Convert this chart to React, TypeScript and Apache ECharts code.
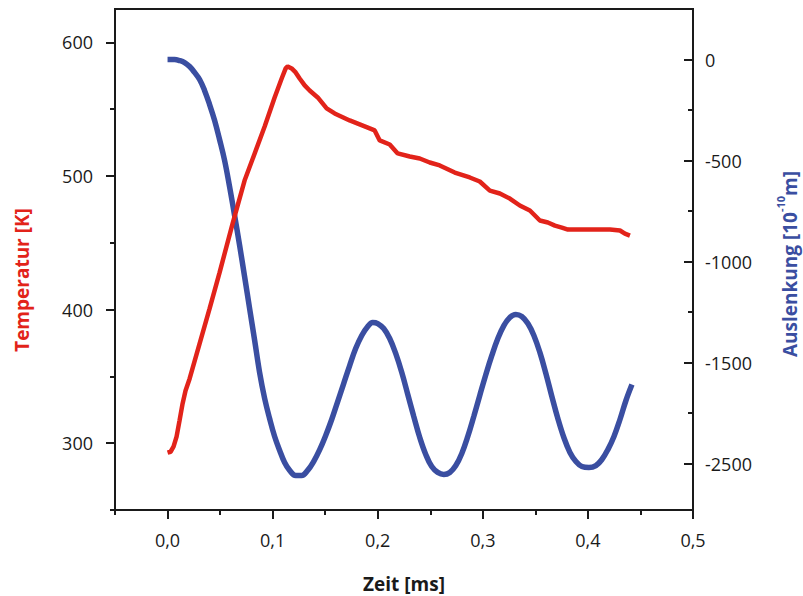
import React, { useEffect, useRef } from "react";
import * as echarts from "echarts";

// Temperatur (red) – time in ms, temperature in K
const TIME_T = [0.0, 0.0029, 0.0057, 0.0086, 0.0114, 0.0143, 0.0171, 0.021, 0.0305, 0.04, 0.0495, 0.0619, 0.0733, 0.0829, 0.0924, 0.1019, 0.1086, 0.1124, 0.1143, 0.1181, 0.1219, 0.1257, 0.1305, 0.1352, 0.1429, 0.1514, 0.159, 0.1733, 0.1876, 0.1971, 0.2019, 0.2114, 0.219, 0.2305, 0.24, 0.2495, 0.259, 0.2733, 0.2876, 0.2971, 0.3067, 0.3162, 0.3257, 0.3352, 0.3448, 0.3543, 0.3619, 0.3686, 0.3752, 0.381, 0.3924, 0.4067, 0.421, 0.4305, 0.4352, 0.44];
const TEMP = [292.9, 293.6, 297.4, 304.9, 316.9, 329.6, 339.3, 348.3, 374.5, 400.7, 427.7, 464.4, 496.6, 516.9, 537.1, 558.8, 573.0, 580.5, 582.0, 580.5, 577.5, 573.0, 567.8, 564.0, 558.8, 550.6, 546.8, 541.6, 537.1, 534.1, 526.6, 523.6, 516.9, 514.6, 513.1, 510.1, 507.9, 502.6, 498.9, 495.9, 489.1, 486.9, 483.1, 477.9, 474.2, 466.7, 465.2, 462.9, 461.4, 459.9, 459.9, 459.9, 459.9, 459.2, 456.9, 455.4];

// Auslenkung (blue) – time in ms, deflection in 1e-10 m
const TIME_D = [0, 0.0067, 0.0114, 0.0162, 0.021, 0.0257, 0.0305, 0.0352, 0.04, 0.0448, 0.0495, 0.0543, 0.059, 0.0638, 0.0686, 0.0733, 0.0781, 0.0829, 0.0876, 0.0924, 0.0971, 0.1019, 0.1067, 0.1114, 0.1162, 0.1219, 0.1276, 0.1333, 0.139, 0.1448, 0.1505, 0.1562, 0.1619, 0.1676, 0.1733, 0.179, 0.1848, 0.1905, 0.1952, 0.2, 0.2057, 0.2114, 0.2171, 0.2229, 0.2286, 0.2343, 0.24, 0.2457, 0.2514, 0.2571, 0.2629, 0.2686, 0.2743, 0.28, 0.2857, 0.2914, 0.2971, 0.3029, 0.3086, 0.3143, 0.32, 0.3257, 0.3314, 0.3371, 0.3429, 0.3486, 0.3543, 0.36, 0.3657, 0.3714, 0.3771, 0.3829, 0.3886, 0.3943, 0.401, 0.4076, 0.4133, 0.419, 0.4248, 0.4305, 0.4362, 0.4419];
const DEFL = [0, 0, -5, -15, -35, -64, -99, -153, -223, -302, -396, -500, -629, -772, -921, -1074, -1233, -1391, -1549, -1678, -1777, -1866, -1935, -1995, -2034, -2059, -2059, -2034, -1990, -1931, -1861, -1782, -1693, -1604, -1515, -1431, -1366, -1322, -1302, -1307, -1332, -1381, -1455, -1549, -1658, -1767, -1871, -1955, -2015, -2044, -2054, -2044, -2010, -1950, -1866, -1767, -1663, -1559, -1465, -1381, -1317, -1277, -1262, -1272, -1307, -1366, -1450, -1554, -1668, -1777, -1871, -1945, -1990, -2015, -2020, -2010, -1980, -1931, -1866, -1782, -1688, -1609];

// Axis ticks / labels
const X_MAJOR = [0, 0.1, 0.2, 0.3, 0.4, 0.5];
const X_MINOR = [-0.05, 0.05, 0.15, 0.25, 0.35, 0.45];
const LEFT_MAJOR = [300, 400, 500, 600];
const LEFT_MINOR = [250, 350, 450, 550];
const RIGHT_MAJOR = [0, -500, -1000, -1500, -2000];
const RIGHT_LABELS = ["0", "-500", "-1000", "-1500", "-2500"];
const RIGHT_MINOR = [-250, -750, -1250, -1750];

const RED = "#e2231a";
const BLUE = "#3a4ea1";
const FONT = "Open Sans";
const INK = "#1a1a1a";

export default function App() {
  const ref = useRef<HTMLDivElement>(null);
  useEffect(() => {
    if (!ref.current) return;
    const chart = echarts.init(ref.current, null, { renderer: "svg" });
    const lbl = { color: INK, fontSize: 18, fontFamily: FONT };
    const axLine = { show: true, onZero: false, lineStyle: { color: INK, width: 2 } };
    const noLine = { show: false, onZero: false };
    const tick = (len: number, inside: boolean, vals: number[]) => ({
      show: true, inside, length: len, lineStyle: { color: INK, width: 2 }, customValues: vals,
    });
    chart.setOption({
      animation: false,
      grid: { left: 115, right: 110, top: 9, bottom: 86, show: true, borderColor: INK, borderWidth: 2, backgroundColor: "transparent" },
      xAxis: [
        {
          type: "value", min: -0.05, max: 0.5, position: "bottom",
          axisLine: axLine,
          axisTick: tick(9, false, X_MAJOR),
          axisLabel: { ...lbl, margin: 21, customValues: X_MAJOR, formatter: (v: number) => v.toFixed(1).replace(".", ",") },
          splitLine: { show: false },
        },
        {
          type: "value", min: -0.05, max: 0.5, position: "bottom",
          axisLine: noLine,
          axisTick: tick(5, false, X_MINOR),
          axisLabel: { show: false },
          splitLine: { show: false },
        },
      ],
      yAxis: [
        {
          type: "value", min: 250, max: 625, position: "left",
          axisLine: axLine,
          axisTick: tick(9, false, LEFT_MAJOR),
          axisLabel: { ...lbl, margin: 22, customValues: LEFT_MAJOR },
          splitLine: { show: false },
        },
        {
          type: "value", min: 250, max: 625, position: "left",
          axisLine: noLine,
          axisTick: tick(5, false, LEFT_MINOR),
          axisLabel: { show: false },
          splitLine: { show: false },
        },
        {
          type: "value", min: -2230, max: 250, position: "right",
          axisLine: axLine,
          axisTick: tick(9, true, RIGHT_MAJOR),
          axisLabel: {
            ...lbl, margin: 12, customValues: RIGHT_MAJOR,
            formatter: (v: number) => RIGHT_LABELS[RIGHT_MAJOR.indexOf(v)] ?? String(v),
          },
          splitLine: { show: false },
        },
        {
          type: "value", min: -2230, max: 250, position: "right",
          axisLine: noLine,
          axisTick: tick(5, true, RIGHT_MINOR),
          axisLabel: { show: false },
          splitLine: { show: false },
        },
      ],
      graphic: [
        {
          type: "text", x: 22, y: 280, rotation: Math.PI / 2,
          style: { text: "Temperatur [K]", fill: RED, fontSize: 19, fontWeight: "bold", fontFamily: FONT, align: "center", verticalAlign: "middle" },
        },
        {
          type: "text", x: 787, y: 264, rotation: Math.PI / 2,
          style: {
            text: "{n|Auslenkung [10}{s|-10}{n|m]}", align: "center", verticalAlign: "middle",
            rich: {
              n: { fill: BLUE, fontSize: 19, fontWeight: "bold", fontFamily: FONT, lineHeight: 24, verticalAlign: "bottom" },
              s: { fill: BLUE, fontSize: 11, fontWeight: "bold", fontFamily: FONT, lineHeight: 24, verticalAlign: "top" },
            },
          },
        },
        {
          type: "text", x: 404, y: 584,
          style: { text: "Zeit [ms]", fill: INK, fontSize: 19, fontWeight: "bold", fontFamily: FONT, align: "center", verticalAlign: "middle" },
        },
      ],
      series: [
        {
          type: "line", name: "Auslenkung", xAxisIndex: 0, yAxisIndex: 2,
          data: TIME_D.map((t, i) => [t, DEFL[i]]),
          showSymbol: false, smooth: 0.4, lineStyle: { color: BLUE, width: 5.5 }, itemStyle: { color: BLUE },
        },
        {
          type: "line", name: "Temperatur", xAxisIndex: 0, yAxisIndex: 0,
          data: TIME_T.map((t, i) => [t, TEMP[i]]),
          showSymbol: false, lineStyle: { color: RED, width: 4.5 }, itemStyle: { color: RED },
        },
      ],
    });
    return () => chart.dispose();
  }, []);
  return <div ref={ref} style={{ width: 803, height: 596, position: "absolute", left: 0, top: 0 }} />;
}
